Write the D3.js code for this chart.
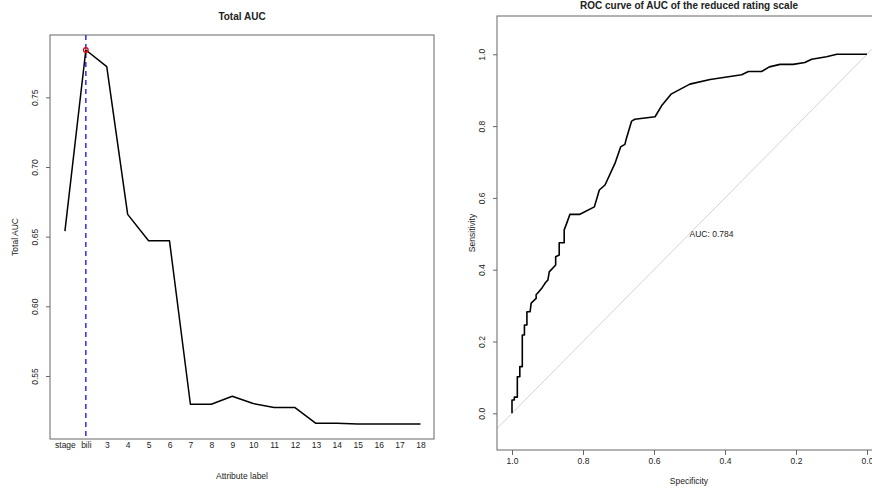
<!DOCTYPE html>
<html><head><meta charset="utf-8">
<script src="https://cdn.jsdelivr.net/npm/d3@7"></script>
<style>
body{margin:0;background:#fff;}
text{font-family:"Liberation Sans",Arial,sans-serif;fill:#222;}
</style></head>
<body><svg id="c" width="872" height="488"></svg>
<script>
// ---- Left chart data ----
const attrLabels = ["stage","bili","3","4","5","6","7","8","9","10","11","12","13","14","15","16","17","18"];
const totalAUC = [0.654,0.784,0.772,0.666,0.647,0.647,0.5297,0.5297,0.5354,0.5302,0.5273,0.5273,0.516,0.516,0.5155,0.5155,0.5155,0.5155];
const leftYTicks = [0.55,0.60,0.65,0.70,0.75];
const bestIndex = 2; // "bili"

// ---- ROC data ----
const specificity = [1.000,1.000,0.9935,0.9935,0.985,0.985,0.978,0.978,0.971,0.971,0.965,0.965,0.958,0.958,0.949,0.946,0.932,0.932,0.925,0.915,0.905,0.899,0.895,0.877,0.877,0.867,0.867,0.853,0.853,0.846,0.837,0.810,0.768,0.754,0.738,0.710,0.694,0.682,0.679,0.663,0.654,0.597,0.577,0.552,0.499,0.442,0.353,0.334,0.297,0.275,0.245,0.208,0.175,0.156,0.114,0.085,0.000];
const sensitivity = [0.000,0.037,0.037,0.045,0.045,0.102,0.102,0.130,0.130,0.218,0.218,0.246,0.246,0.283,0.283,0.307,0.320,0.330,0.338,0.350,0.365,0.371,0.394,0.413,0.436,0.441,0.475,0.475,0.511,0.529,0.554,0.554,0.575,0.622,0.636,0.696,0.742,0.749,0.761,0.814,0.819,0.826,0.859,0.889,0.917,0.930,0.943,0.952,0.952,0.965,0.972,0.972,0.977,0.986,0.993,1.000,1.000];
const rocTicks = [1.0,0.8,0.6,0.4,0.2,0.0];
const aucValue = 0.784;

const svg = d3.select("#c");
const FS = 8.5;

// ================= LEFT =================
const L = {x0:50, x1:434, y0:35, y1:439};
const n = attrLabels.length;
const xL = d3.scaleLinear().domain([1-0.04*(n-1), n+0.04*(n-1)]).range([L.x0+0.7, L.x1+0.7]);
const ext = d3.extent(totalAUC), pad = (ext[1]-ext[0])*0.04;
const yL = d3.scaleLinear().domain([ext[0]-pad, ext[1]+pad]).range([L.y1, L.y0]);

const gL = svg.append("g");
gL.append("rect").attr("x",L.x0).attr("y",L.y0).attr("width",L.x1-L.x0).attr("height",L.y1-L.y0)
  .attr("fill","none").attr("stroke","#666").attr("stroke-width",1);

// y axis
const axL = d3.axisLeft(yL).tickValues(leftYTicks).tickFormat(d3.format(".2f")).tickSize(4).tickPadding(0);
const gyL = gL.append("g").attr("transform",`translate(${L.x0},0)`).call(axL);
gyL.select(".domain").remove();
gyL.selectAll(".tick line").attr("stroke","#666");
gyL.selectAll(".tick text").attr("transform","rotate(-90)").attr("x",0).attr("y",-15)
  .attr("dy","0.35em").attr("text-anchor","middle").style("font-size",FS+"px")
  .style("font-family","'Liberation Sans',Arial,sans-serif").attr("fill","#333");

// x labels (no ticks)
const axXL = d3.axisBottom(xL).tickValues(d3.range(1,n+1)).tickFormat((d,i)=>attrLabels[i]).tickSize(0).tickPadding(3);
const gxL = gL.append("g").attr("transform",`translate(0,${L.y1})`).call(axXL);
gxL.select(".domain").remove();
gxL.selectAll(".tick text").style("font-size",FS+"px").style("font-family","'Liberation Sans',Arial,sans-serif").attr("fill","#333");

// dashed vertical line
gL.append("line").attr("x1",xL(bestIndex)).attr("x2",xL(bestIndex)).attr("y1",L.y0).attr("y2",L.y1)
  .attr("stroke","#2b2bf5").attr("stroke-width",1.5).attr("stroke-dasharray","5,4");

// line
gL.append("path").datum(totalAUC)
  .attr("d", d3.line().x((d,i)=>xL(i+1)).y(d=>yL(d)))
  .attr("fill","none").attr("stroke","#000").attr("stroke-width",1.5).attr("stroke-linejoin","round");

// red point
gL.append("circle").attr("cx",xL(bestIndex)).attr("cy",yL(totalAUC[bestIndex-1])).attr("r",2.3)
  .attr("fill","none").attr("stroke","#e00").attr("stroke-width",1.3);

gL.append("text").attr("x",(L.x0+L.x1)/2).attr("y",20).attr("text-anchor","middle")
  .style("font-size","10px").style("font-weight","bold").text("Total AUC");
gL.append("text").attr("x",(L.x0+L.x1)/2).attr("y",479).attr("text-anchor","middle")
  .style("font-size",FS+"px").text("Attribute label");
gL.append("text").attr("transform",`translate(18,${(L.y0+L.y1)/2}) rotate(-90)`).attr("text-anchor","middle")
  .style("font-size",FS+"px").text("Total AUC");

// ================= RIGHT =================
const R = {x0:497, x1:881, y0:16, y1:450};
const xR = d3.scaleLinear().domain([1,0]).range([512,867]);
const yR = d3.scaleLinear().domain([0,1]).range([413.3,54.3]);
const gR = svg.append("g");
svg.append("defs").append("clipPath").attr("id","clipR").append("rect")
  .attr("x",R.x0).attr("y",R.y0).attr("width",R.x1-R.x0).attr("height",R.y1-R.y0);

// diagonal
gR.append("line").attr("clip-path","url(#clipR)")
  .attr("x1",xR(1.2)).attr("y1",yR(-0.2)).attr("x2",xR(-0.2)).attr("y2",yR(1.2))
  .attr("stroke","#d3d3d3").attr("stroke-width",1);

gR.append("rect").attr("x",R.x0).attr("y",R.y0).attr("width",R.x1-R.x0).attr("height",R.y1-R.y0)
  .attr("fill","none").attr("stroke","#666").attr("stroke-width",1);

const axYR = d3.axisLeft(yR).tickValues(rocTicks).tickFormat(d3.format(".1f")).tickSize(4).tickPadding(0);
const gyR = gR.append("g").attr("transform",`translate(${R.x0},0)`).call(axYR);
gyR.select(".domain").remove();
gyR.selectAll(".tick line").attr("stroke","#666");
gyR.selectAll(".tick text").attr("transform","rotate(-90)").attr("x",0).attr("y",-15)
  .attr("dy","0.35em").attr("text-anchor","middle").style("font-size",FS+"px")
  .style("font-family","'Liberation Sans',Arial,sans-serif").attr("fill","#333");

const axXR = d3.axisBottom(xR).tickValues(rocTicks).tickFormat(d3.format(".1f")).tickSize(5).tickPadding(3);
const gxR = gR.append("g").attr("transform",`translate(0,${R.y1})`).call(axXR);
gxR.select(".domain").remove();
gxR.selectAll(".tick line").attr("stroke","#666");
gxR.selectAll(".tick text").style("font-size",FS+"px").style("font-family","'Liberation Sans',Arial,sans-serif").attr("fill","#333");

// ROC curve
gR.append("path").datum(d3.zip(specificity, sensitivity))
  .attr("d", d3.line().x(d=>xR(d[0])).y(d=>yR(d[1])))
  .attr("fill","none").attr("stroke","#000").attr("stroke-width",1.6).attr("stroke-linejoin","round");

gR.append("text").attr("x",xR(0.5)).attr("y",yR(0.5)).attr("dy","0.35em")
  .style("font-size",FS+"px").text("AUC: " + aucValue.toFixed(3));

gR.append("text").attr("x",(R.x0+R.x1)/2).attr("y",9).attr("text-anchor","middle")
  .style("font-size","10px").style("font-weight","bold").text("ROC curve of AUC of the reduced rating scale");
gR.append("text").attr("x",(R.x0+R.x1)/2).attr("y",484).attr("text-anchor","middle")
  .style("font-size",FS+"px").text("Specificity");
gR.append("text").attr("transform",`translate(472,${(R.y0+R.y1)/2}) rotate(-90)`).attr("text-anchor","middle")
  .attr("dy","0.35em").style("font-size",FS+"px").text("Sensitivity");
</script></body></html>
